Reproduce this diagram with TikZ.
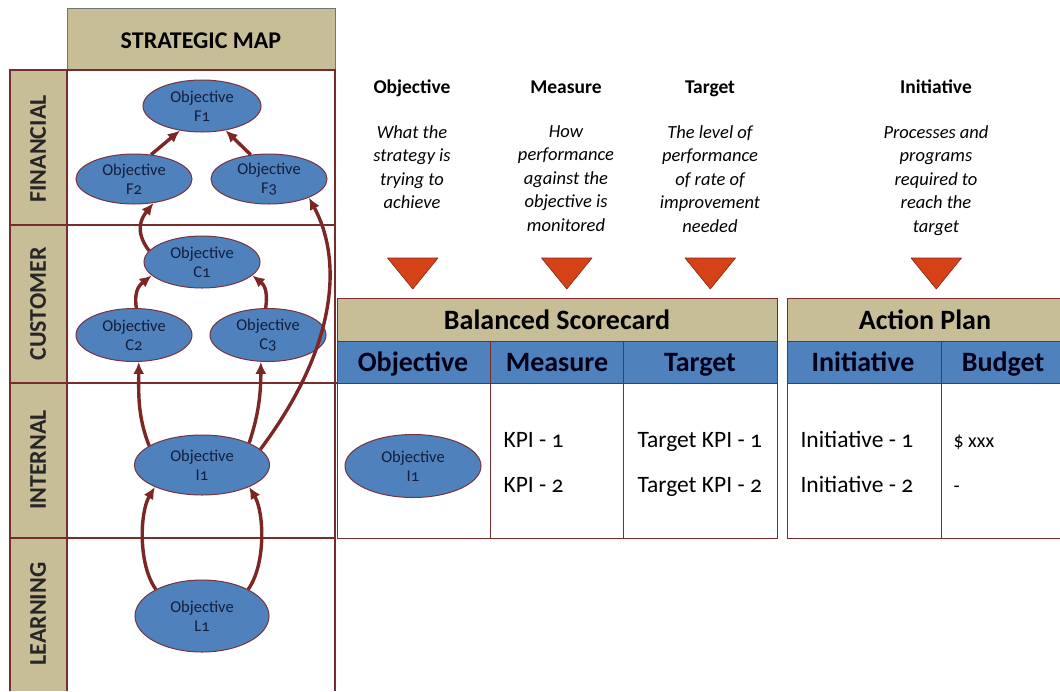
\documentclass[tikz,border=0pt]{standalone}
\usepackage{fontspec}
\setmainfont{Carlito}[Numbers=OldStyle]
\usetikzlibrary{shapes.geometric,arrows.meta}
\definecolor{tan}{RGB}{199,190,152}
\definecolor{hdrblue}{RGB}{79,129,189}
\definecolor{objblue}{RGB}{79,129,189}
\definecolor{ellborder}{RGB}{120,50,60}
\definecolor{objtext}{RGB}{20,30,60}
\definecolor{arrred}{RGB}{125,38,38}
\definecolor{gridred}{RGB}{120,45,45}
\definecolor{trifill}{RGB}{214,66,24}
\definecolor{triborder}{RGB}{130,40,25}
\begin{document}
\begin{tikzpicture}[x=1pt,y=-1pt,
  obj/.style={ellipse, draw=ellborder, line width=1pt, fill=objblue, inner sep=0pt,
    align=center, text=objtext, font=\fontsize{16.5}{19}\selectfont},
  arr/.style={draw=arrred, line width=3.4pt, -{Latex[length=12pt,width=11pt]}},
  grid/.style={draw=gridred, line width=1.2pt},
  side/.style={rotate=90, font=\bfseries\fontsize{24}{28}\selectfont, text=black!85},
  tophead/.style={font=\bfseries\fontsize{19.5}{23}\selectfont, anchor=base},
  desc/.style={font=\itshape\fontsize{18.5}{23.5}\selectfont, align=center, anchor=north},
  tabhead/.style={font=\bfseries\fontsize{28}{32}\selectfont, anchor=base},
  colhead/.style={font=\bfseries\fontsize{28}{32}\selectfont, text=black!90!blue, anchor=base},
  cell/.style={font=\fontsize{23.5}{27}\selectfont, anchor=base west},
  tri/.style={fill=trifill, draw=triborder, line width=0.6pt, line join=round},
  tanbox/.style={fill=tan, draw=black!55, line width=1pt},
  bluebox/.style={fill=hdrblue, draw=gridred, line width=1pt}
]
\useasboundingbox (0,0) rectangle (1060,691);
\fill[white] (0,0) rectangle (1060,691);

% ---------------- strategic map frame
\draw[tanbox] (67,8) rectangle (335,70);
\node[font=\bfseries\fontsize{24}{28}\selectfont, anchor=base] (smap) at (201,48) {STRATEGIC MAP};
\fill[tan] (10,70) rectangle (67,691);
\draw[grid] (10,691) -- (10,70) -- (335,70) -- (335,691);
\draw[grid] (67,70) -- (67,691);
\draw[grid] (10,225) -- (335,225);
\draw[grid] (10,383) -- (337,383);
\draw[grid] (10,538) -- (335,538);

\node[side] (lfin) at (38,149) {FINANCIAL};
\node[side] (lcus) at (38,304) {CUSTOMER};
\node[side] (lint) at (38,460) {INTERNAL};
\node[side] (llea) at (38,614) {LEARNING};

% ---------------- objectives
\node[obj, minimum width=118, minimum height=52] (F1) at (202,106) {Objective\\F1};
\node[obj, minimum width=116, minimum height=50] (F2) at (134,179) {Objective\\F2};
\node[obj, minimum width=116, minimum height=50] (F3) at (269,179) {Objective\\F3};
\node[obj, minimum width=116, minimum height=52] (C1) at (202,262) {Objective\\C1};
\node[obj, minimum width=116, minimum height=53] (C2) at (134,335) {Objective\\C2};
\node[obj, minimum width=116, minimum height=53] (C3) at (268,335) {Objective\\C3};
\node[obj, minimum width=135, minimum height=60] (I1) at (202,465) {Objective\\I1};
\node[obj, minimum width=134, minimum height=72] (L1) at (202,616) {Objective\\L1};

% ---------------- arrows
\draw[arr] (F2.55) -- (F1.-132);
\draw[arr] (F3.127) -- (F1.-46);
\draw[arr] (C1.168) .. controls +(-15,-20) and +(-12,15) .. (F2.-51);
\draw[arr] (I1.15) .. controls +(75,-100) and +(35,65) .. (F3.-25);
\draw[arr] (C2.85) .. controls +(-3,-20) and +(-10,8) .. (C1.-165);
\draw[arr] (C3.95) .. controls +(3,-20) and +(10,8) .. (C1.-15);
\draw[arr] (I1.160) .. controls +(-12,-30) and +(0,30) .. (C2.-80);
\draw[arr] (I1.25) .. controls +(10,-30) and +(0,30) .. (C3.-105);
\draw[arr] (L1.150) .. controls +(-18,-25) and +(-15,25) .. (I1.-155);
\draw[arr] (L1.30) .. controls +(18,-25) and +(15,25) .. (I1.-25);

% ---------------- descriptions
\node[tophead] (hobj) at (412,93) {Objective};
\node[tophead] (hmea) at (566,93) {Measure};
\node[tophead] (htar) at (710,93) {Target};
\node[tophead] (hini) at (936,93) {Initiative};
\node[desc] (dobj) at (412,122) {What the\\strategy is\\trying to\\achieve};
\node[desc] (dmea) at (566,122) {How\\performance\\against the\\objective is\\monitored};
\node[desc] (dtar) at (710,122) {The level of\\performance\\of rate of\\improvement\\needed};
\node[desc] (dini) at (936,122) {Processes and\\programs\\required to\\reach the\\target};

\draw[tri] (387.5,258) -- (438,258) -- (412.8,289) -- cycle;
\draw[tri] (541.5,258) -- (592,258) -- (566.8,289) -- cycle;
\draw[tri] (685,258) -- (735.5,258) -- (710.3,289) -- cycle;
\draw[tri] (911,258) -- (961.5,258) -- (936.3,289) -- cycle;

% ---------------- balanced scorecard
\fill[white] (337,383) rectangle (777,538);
\draw[tanbox] (337,298) rectangle (777,341);
\draw[bluebox] (337,341) rectangle (777,383);
\draw[grid, line width=1pt] (337,298) rectangle (777,538);
\draw[grid, line width=1pt] (490,341) -- (490,538);
\draw[grid, line width=1pt] (623,341) -- (623,538);
\node[tabhead] (bsc) at (557,329) {Balanced Scorecard};
\node[colhead] (cobj) at (413,371) {Objective};
\node[colhead] (cmea) at (557,371) {Measure};
\node[colhead] (ctar) at (700,371) {Target};
\node[obj, minimum width=136, minimum height=63] (I1b) at (413,466) {Objective\\I1};
\node[cell] (k1) at (500,447) {KPI - 1};
\node[cell] (k2) at (500,492) {KPI - 2};
\node[cell] (t1) at (634,447) {Target KPI - 1};
\node[cell] (t2) at (634,492) {Target KPI - 2};

% ---------------- action plan
\draw[tanbox] (787,298) rectangle (1064,341);
\draw[bluebox] (787,341) rectangle (1064,383);
\draw[grid, line width=1pt] (787,298) rectangle (1064,538);
\draw[grid, line width=1pt] (941,341) -- (941,538);
\node[tabhead] (ap) at (925,329) {Action Plan};
\node[colhead] (cini) at (863,371) {Initiative};
\node[colhead] (cbud) at (1003,371) {Budget};
\node[cell] (i1) at (797,447) {Initiative - 1};
\node[cell] (i2) at (797,492) {Initiative - 2};
\node[cell, font=\fontsize{20}{24}\selectfont] (b1) at (950,447) {\$ xxx};
\node[cell, font=\fontsize{20}{24}\selectfont] (b2) at (950,492) {-};
\end{tikzpicture}
\end{document}
